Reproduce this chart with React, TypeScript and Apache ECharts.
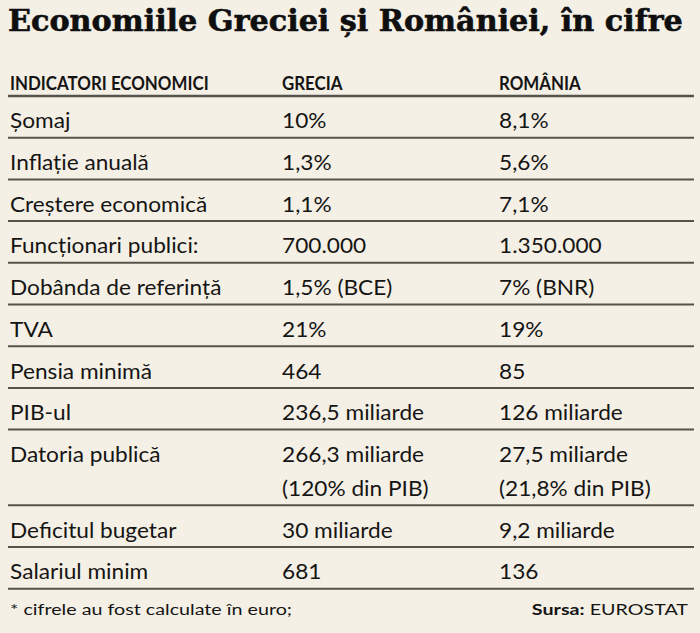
import React, { useEffect, useRef } from "react";
import * as echarts from "echarts";

const title = "Economiile Greciei și României, în cifre";
const headers = ["INDICATORI ECONOMICI", "GRECIA", "ROMÂNIA"];
const indicators = [
  "Șomaj",
  "Inflație anuală",
  "Creștere economică",
  "Funcționari publici:",
  "Dobânda de referință",
  "TVA",
  "Pensia minimă",
  "PIB-ul",
  "Datoria publică",
  "Deficitul bugetar",
  "Salariul minim",
];
const grecia = [
  "10%",
  "1,3%",
  "1,1%",
  "700.000",
  "1,5% (BCE)",
  "21%",
  "464",
  "236,5 miliarde",
  "266,3 miliarde\n(120% din PIB)",
  "30 miliarde",
  "681",
];
const romania = [
  "8,1%",
  "5,6%",
  "7,1%",
  "1.350.000",
  "7% (BNR)",
  "19%",
  "85",
  "126 miliarde",
  "27,5 miliarde\n(21,8% din PIB)",
  "9,2 miliarde",
  "136",
];
const footnote = "* cifrele au fost calculate în euro;";
const sourceLabel = "Sursa:";
const sourceName = "EUROSTAT";

const BG = "#f4f0e6";
const INK = "#161514";
const RULE = "#55534d";
const SANS = "Lato, 'Open Sans', sans-serif";
const SERIF = "'DejaVu Serif', serif";

function measure(text: string, font: string): number {
  const c = document.createElement("canvas").getContext("2d");
  if (!c) return 1;
  c.font = font;
  return c.measureText(text).width || 1;
}

export default function App() {
  const ref = useRef<HTMLDivElement>(null);
  useEffect(() => {
    if (!ref.current) return;
    const chart = echarts.init(ref.current, undefined, { renderer: "svg" });

    const X0 = 8;
    const X1 = 694;
    const colX = [10, 282, 499];
    const rowH = 41.7;
    const lineH = 34;
    const headerLineY = 96;

    const els: any[] = [];

    // title
    const titleSize = 29;
    const titleScale = 675 / measure(title, `bold ${titleSize}px 'DejaVu Serif'`);
    els.push({
      type: "text",
      x: X0,
      y: 21,
      scaleX: titleScale,
      style: {
        text: title,
        font: `bold ${titleSize}px ${SERIF}`,
        fill: "#0f0f0f",
        stroke: "#0f0f0f",
        lineWidth: 0.6,
        textAlign: "left",
        textVerticalAlign: "middle",
      },
    });

    // header
    const hSize = 18;
    const hScale = 199 / measure(headers[0], `bold ${hSize}px Lato`);
    headers.forEach((h, i) => {
      els.push({
        type: "text",
        x: colX[i],
        y: 83,
        scaleX: hScale,
        style: {
          text: h,
          font: `bold ${hSize}px ${SANS}`,
          fill: INK,
          textAlign: "left",
          textVerticalAlign: "middle",
        },
      });
    });
    els.push({
      type: "line",
      shape: { x1: X0, y1: headerLineY, x2: X1, y2: headerLineY },
      style: { stroke: RULE, lineWidth: 2.5 },
    });

    // rows
    let top = headerLineY;
    indicators.forEach((name, r) => {
      const cells = [name, grecia[r], romania[r]];
      const nLines = Math.max(...cells.map((c) => c.split("\n").length));
      cells.forEach((cell, ci) => {
        cell.split("\n").forEach((ln, li) => {
          els.push({
            type: "text",
            x: colX[ci],
            y: top + 24 + li * lineH,
            scaleX: 1.03,
            style: {
              text: ln,
              font: `22px ${SANS}`,
              fill: INK,
              textAlign: "left",
              textVerticalAlign: "middle",
            },
          });
        });
      });
      top += rowH + (nLines - 1) * lineH;
      els.push({
        type: "line",
        shape: { x1: X0, y1: top, x2: X1, y2: top },
        style: { stroke: RULE, lineWidth: 2 },
      });
    });

    // footer
    const fSize = 15;
    const fScale = 282 / measure(footnote, `${fSize}px Lato`);
    els.push({
      type: "text",
      x: 10,
      y: 609,
      scaleX: fScale,
      style: {
        text: footnote,
        font: `${fSize}px ${SANS}`,
        fill: INK,
        textAlign: "left",
        textVerticalAlign: "middle",
      },
    });
    els.push({
      type: "text",
      x: 688,
      y: 609,
      scaleX: fScale,
      style: {
        text: `{b|${sourceLabel}} ${sourceName}`,
        font: `${fSize}px ${SANS}`,
        fill: INK,
        textAlign: "right",
        textVerticalAlign: "middle",
        rich: {
          b: { fontWeight: "bold", fontSize: fSize, fontFamily: SANS, fill: INK },
        },
      },
    });

    chart.setOption({
      animation: false,
      backgroundColor: BG,
      graphic: { elements: els },
    });
    return () => chart.dispose();
  }, []);
  return (
    <div
      ref={ref}
      style={{ position: "absolute", left: 0, top: 0, width: 700, height: 633 }}
    />
  );
}
